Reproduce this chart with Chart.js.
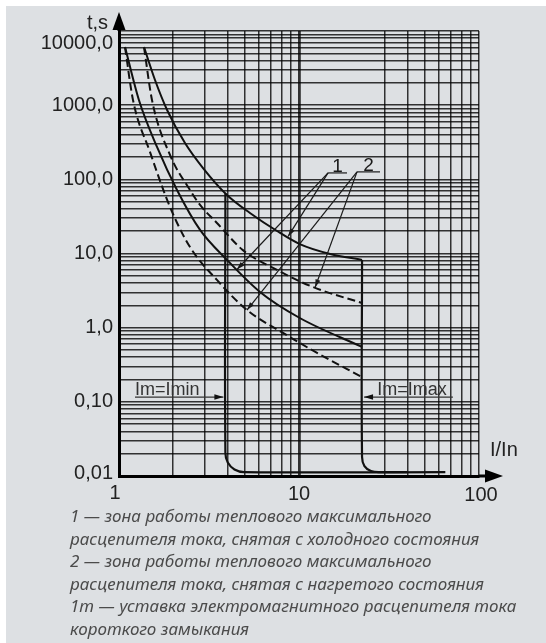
<!DOCTYPE html>
<html>
<head>
<meta charset="utf-8">
<script src="https://cdn.jsdelivr.net/npm/chart.js@4/dist/chart.umd.min.js"></script>
<style>
  html, body { margin: 0; padding: 0; background: #fff; width: 546px; height: 643px; overflow: hidden; }
  #panel { position: absolute; left: 6px; top: 6px; width: 540px; height: 637px; background: #dde0e3; }
  #chart { position: absolute; left: 0; top: 0; }
  #notes {
    position: absolute; left: 70px; top: 505px;
    font-family: "Noto Sans", sans-serif; font-style: italic; font-size: 17px;
    line-height: 22.6px; color: #4b4b4b; white-space: nowrap;
  }
</style>
</head>
<body>
<div id="panel"></div>
<canvas id="chart" width="546" height="643"></canvas>
<div id="notes">
  <div>1 — зона работы теплового максимального</div>
  <div>расцепителя тока, снятая с холодного состояния</div>
  <div>2 — зона работы теплового максимального</div>
  <div>расцепителя тока, снятая с нагретого состояния</div>
  <div>1т — уставка электромагнитного расцепителя тока</div>
  <div>короткого замыкания</div>
</div>
<script>
// Log-log grid positions (the 20 line is absent on this sheet)
const X_GRID = [1, 2, 3, 4, 5, 6, 7, 8, 9, 10, 30, 40, 50, 60, 70, 80, 90, 100];
const Y_DECADES = [0.01, 0.1, 1, 10, 100, 1000];
const MANTISSAS = [1, 2, 3, 4, 5, 6, 7, 8, 9];
const Y_GRID = Y_DECADES.flatMap(d => MANTISSAS.map(m => +(m * d).toPrecision(3))).concat([10000]);

// Tick labels
const X_TICKS = [1, 10, 100];
const X_TICK_TEXT = ['1', '10', '100'];
const Y_TICKS = [0.01, 0.1, 1, 10, 100, 1000, 10000];
const Y_TICK_TEXT = ['0,01', '0,10', '1,0', '10,0', '100,0', '1000,0', '10000,0'];

// Zone 1: thermal release, cold state (solid boundaries)
const COLD_UPPER_I = [1.377, 1.585, 1.85, 2.326, 2.93, 3.98, 5.34, 7.55, 10.1, 14.9, 22.4];
const COLD_UPPER_T = [6080, 2184, 861, 309, 142, 61.5, 35.2, 20.1, 13.4, 9.85, 8.2];
const COLD_LOWER_I = [1.08, 1.29, 1.626, 2.1, 2.82, 3.98, 6.07, 10.1, 22.4];
const COLD_LOWER_T = [6080, 1175, 273, 71.8, 20.8, 8.2, 3.03, 1.35, 0.55];

// Zone 2: thermal release, hot state (dashed boundaries)
const HOT_UPPER_I = [1.377, 1.525, 1.92, 2.48, 2.82, 3.5, 4.88, 7.55, 11.96, 22.4];
const HOT_UPPER_T = [6080, 1174, 213, 71.8, 45.1, 25.8, 11.1, 6.0, 3.53, 2.15];
const HOT_LOWER_I = [1.08, 1.196, 1.486, 1.92, 2.48, 3.5, 5.14, 8.15, 12.6, 22.4];
const HOT_LOWER_T = [6080, 1175, 234, 42.4, 12.2, 4.4, 1.73, 0.85, 0.456, 0.216];

// Short-circuit (electromagnetic) release settings Im = Imin and Im = Imax
const IMIN_I = [3.9, 3.9, 4.02, 4.38, 4.95, 65];
const IMIN_T = [65, 0.0204, 0.0152, 0.01225, 0.0113, 0.0113];
const IMAX_I = [22.4, 22.4, 23.1, 25.1, 28.5, 40];
const IMAX_T = [8.2, 0.018, 0.0136, 0.0117, 0.0113, 0.0113];

// Callout leaders: label anchor and the curve points they point at
const LEADER_1 = { text: '1', from: [14.5, 122], to: [[8.7, 17], [4.52, 6.08]] };
const LEADER_2 = { text: '2', from: [21.0, 126], to: [[12.3, 3.5], [5.14, 1.73]] };

// Setting notes
const NOTE_IMIN = { text: 'Im=Imin', start: 1.227, end: 3.9, t: 0.116 };
const NOTE_IMAX = { text: 'Im=Imax', start: 22.4, end: 71.6, t: 0.116, textStart: 27.2 };

const pts = (I, T) => I.map((v, k) => ({ x: v, y: T[k] }));
const INK = '#111';

const thermal = { borderColor: INK, borderWidth: 2, pointRadius: 0, fill: false, cubicInterpolationMode: 'monotone' };
const dashed = { ...thermal, borderDash: [8, 4], borderCapStyle: 'butt' };
const magnetic = { borderColor: INK, borderWidth: 2.2, pointRadius: 0, fill: false, tension: 0.4 };

function arrowHead(ctx, x1, y1, x2, y2, len, half) {
  const a = Math.atan2(y2 - y1, x2 - x1);
  ctx.beginPath();
  ctx.moveTo(x2, y2);
  ctx.lineTo(x2 - len * Math.cos(a) + half * Math.sin(a), y2 - len * Math.sin(a) - half * Math.cos(a));
  ctx.lineTo(x2 - len * Math.cos(a) - half * Math.sin(a), y2 - len * Math.sin(a) + half * Math.cos(a));
  ctx.closePath();
  ctx.fill();
}

const decorations = {
  id: 'decorations',
  afterDraw(chart) {
    const ctx = chart.ctx;
    const xs = chart.scales.x, ys = chart.scales.y;
    const area = chart.chartArea;
    const px = v => xs.getPixelForValue(v);
    const py = v => ys.getPixelForValue(v);
    ctx.save();
    ctx.fillStyle = '#000';
    ctx.strokeStyle = '#000';

    // axis arrows
    ctx.lineWidth = 3;
    ctx.beginPath();
    ctx.moveTo(area.left, area.top);
    ctx.lineTo(area.left, area.top - 6);
    ctx.moveTo(area.right, area.bottom);
    ctx.lineTo(area.right + 8, area.bottom);
    ctx.stroke();
    arrowHead(ctx, area.left, area.top + 10, area.left, area.top - 19, 18, 6.5);
    arrowHead(ctx, area.right - 10, area.bottom, area.right + 24, area.bottom, 18, 6.5);

    // tick labels
    ctx.fillStyle = '#222';
    ctx.font = '20px "Liberation Sans", Arial, sans-serif';
    ctx.textAlign = 'right';
    ctx.textBaseline = 'middle';
    Y_TICKS.forEach((v, k) => {
      const y = Math.min(Math.max(py(v), area.top + 12), area.bottom - 3);
      ctx.fillText(Y_TICK_TEXT[k], area.left - 6, y);
    });
    ctx.textAlign = 'center';
    X_TICKS.forEach((v, k) => {
      ctx.fillText(X_TICK_TEXT[k], px(v) - (k === 0 ? 4 : 0) + (k === 2 ? 2 : 0), area.bottom + 17 + k);
    });

    // axis titles
    ctx.textAlign = 'right';
    ctx.fillText('t,s', area.left - 11, area.top - 8);
    ctx.textAlign = 'left';
    ctx.fillText('I/In', area.right + 11, area.bottom - 26);

    // callouts 1 and 2
    ctx.strokeStyle = '#1a1a1a';
    ctx.fillStyle = '#1a1a1a';
    ctx.lineWidth = 1.2;
    [LEADER_1, LEADER_2].forEach((L, k) => {
      const ax = px(L.from[0]), ay = py(L.from[1]);
      const w = k === 0 ? 19 : 23;
      ctx.beginPath();
      ctx.moveTo(ax, ay);
      ctx.lineTo(ax + w, ay);
      ctx.stroke();
      L.to.forEach(p => {
        const tx = px(p[0]), ty = py(p[1]);
        ctx.beginPath();
        ctx.moveTo(ax, ay);
        ctx.lineTo(tx, ty);
        ctx.stroke();
        arrowHead(ctx, ax, ay, tx, ty, 8, 2.5);
      });
      ctx.font = '19px "Liberation Sans", Arial, sans-serif';
      ctx.textAlign = 'center';
      ctx.textBaseline = 'alphabetic';
      ctx.fillText(L.text, ax + w / 2, ay - 1);
    });

    // Im = Imin / Im = Imax notes
    ctx.font = '18px "Liberation Sans", Arial, sans-serif';
    ctx.fillStyle = '#333';
    ctx.strokeStyle = '#333';
    ctx.lineWidth = 1.2;
    ctx.textAlign = 'left';
    ctx.textBaseline = 'alphabetic';
    {
      const y = py(NOTE_IMIN.t);
      const x0 = px(NOTE_IMIN.start), x1 = px(NOTE_IMIN.end);
      ctx.fillText(NOTE_IMIN.text, x0, y - 2);
      ctx.beginPath(); ctx.moveTo(x0, y); ctx.lineTo(x1 - 2, y); ctx.stroke();
      ctx.fillStyle = '#111';
      arrowHead(ctx, x1 - 20, y, x1 - 2, y, 9, 2.8);
    }
    {
      ctx.fillStyle = '#333';
      const y = py(NOTE_IMAX.t);
      const x0 = px(NOTE_IMAX.start), x1 = px(NOTE_IMAX.end);
      ctx.fillText(NOTE_IMAX.text, px(NOTE_IMAX.textStart), y - 2);
      ctx.beginPath(); ctx.moveTo(x0 + 2, y); ctx.lineTo(x1, y); ctx.stroke();
      ctx.fillStyle = '#111';
      arrowHead(ctx, x0 + 20, y, x0 + 2, y, 9, 2.8);
    }
    ctx.restore();
  }
};

const gridColor = 'rgba(0,0,0,0.78)';

new Chart(document.getElementById('chart'), {
  type: 'line',
  data: {
    datasets: [
      { ...thermal, data: pts(COLD_UPPER_I, COLD_UPPER_T) },
      { ...thermal, data: pts(COLD_LOWER_I, COLD_LOWER_T) },
      { ...dashed, data: pts(HOT_UPPER_I, HOT_UPPER_T) },
      { ...dashed, data: pts(HOT_LOWER_I, HOT_LOWER_T) },
      { ...magnetic, data: pts(IMIN_I, IMIN_T) },
      { ...magnetic, data: pts(IMAX_I, IMAX_T) }
    ]
  },
  options: {
    responsive: false,
    animation: false,
    layout: { autoPadding: false, padding: { left: 119, top: 31, right: 67, bottom: 167 } },
    plugins: { legend: { display: false }, tooltip: { enabled: false } },
    scales: {
      x: {
        type: 'logarithmic', min: 1, max: 100,
        afterBuildTicks: s => { s.ticks = X_GRID.map(v => ({ value: v })); },
        afterFit: s => { s.height = 0; },
        ticks: { display: false },
        grid: {
          drawTicks: false,
          color: gridColor,
          lineWidth: c => (c.tick && c.tick.value === 10 ? 2.8 : 1.5)
        },
        border: { display: true, color: '#000', width: 3 }
      },
      y: {
        type: 'logarithmic', min: 0.01, max: 10000,
        afterBuildTicks: s => { s.ticks = Y_GRID.map(v => ({ value: v })); },
        afterFit: s => { s.width = 0; },
        ticks: { display: false },
        grid: { drawTicks: false, color: gridColor, lineWidth: 1.5 },
        border: { display: true, color: '#000', width: 3 }
      }
    }
  },
  plugins: [decorations]
});
</script>
</body>
</html>
